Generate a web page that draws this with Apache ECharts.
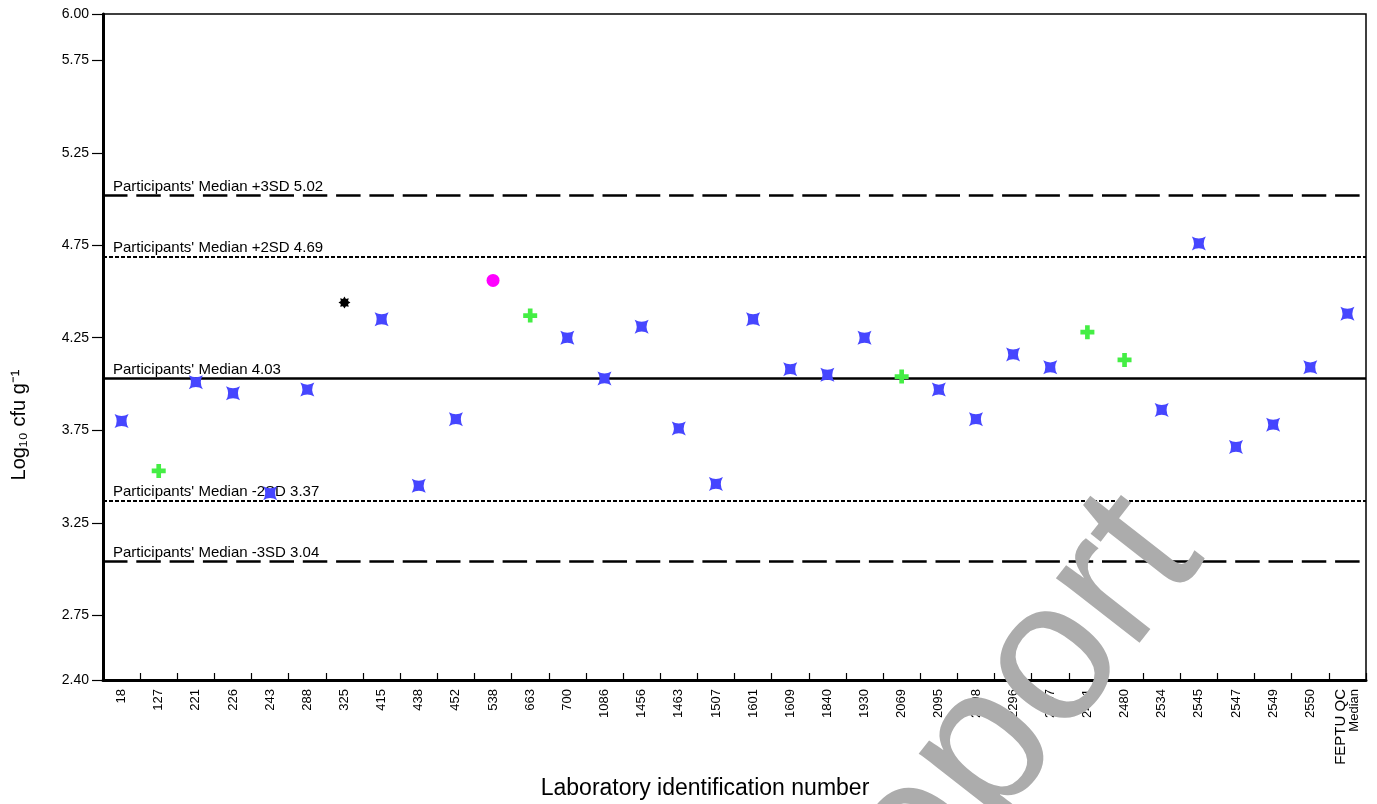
<!DOCTYPE html>
<html><head><meta charset="utf-8">
<script src="https://cdn.jsdelivr.net/npm/echarts@6/dist/echarts.min.js"></script>
<style>html,body{margin:0;padding:0;background:#fff}#c{width:1377px;height:804px}</style>
</head><body><div id="c"></div>
<script>
// ---- data ----
const categories = ['18','127','221','226','243','288','325','415','438','452','538','663','700','1086','1456','1463','1507','1601','1609','1840','1930','2069','2095','2098','2296','2467','2471','2480','2534','2545','2547','2549','2550','FEPTU QC\nMedian'];
const values = [3.80,3.53,4.01,3.95,3.41,3.97,4.44,4.35,3.45,3.81,4.56,4.37,4.25,4.03,4.31,3.76,3.46,4.35,4.08,4.05,4.25,4.04,3.97,3.81,4.16,4.09,4.28,4.13,3.86,4.76,3.66,3.78,4.09,4.38];
// marker group per laboratory: B = blue star, G = green plus, K = black burst, M = magenta circle
const groups = ['B','G','B','B','B','B','K','B','B','B','M','G','B','B','B','B','B','B','B','B','B','G','B','B','B','B','G','G','B','B','B','B','B','B'];
const yTickValues = [2.40,2.75,3.25,3.75,4.25,4.75,5.25,5.75,6.00];
const refValues = [5.02,4.69,4.03,3.37,3.04];
const refLabels = ["Participants' Median +3SD 5.02","Participants' Median +2SD 4.69","Participants' Median 4.03","Participants' Median -2SD 3.37","Participants' Median -3SD 3.04"];
const refKinds = ['dash','dot','solid','dot','dash'];
const xTitle = 'Laboratory identification number';
const yTitle = 'Log\u2081\u2080 cfu g\u207B\u00B9';
const watermark = 'Report';

// ---- styles ----
const FONT = 'Arial, "Liberation Sans", sans-serif';
const starPath = 'path://M-10,-10 Q0,-4 10,-10 Q4,0 10,10 Q0,4 -10,10 Q-4,0 -10,-10 Z';
const plusPath = 'path://M-2,-6 L2,-6 L2,-2 L6,-2 L6,2 L2,2 L2,6 L-2,6 L-2,2 L-6,2 L-6,-2 L-2,-2 Z';
let burst = 'path://';
for (let i = 0; i < 16; i++) {
  const r = i % 2 === 0 ? 10 : 6.5;
  const a = Math.PI * i / 8;
  burst += (i === 0 ? 'M' : 'L') + (r * Math.cos(a)).toFixed(2) + ',' + (r * Math.sin(a)).toFixed(2) + ' ';
}
burst += 'Z';
const groupStyle = {
  B: {symbol: starPath, size: 14, color: '#4646ff'},
  G: {symbol: plusPath, size: 14, color: '#44ee44'},
  K: {symbol: burst, size: 12, color: '#000000'},
  M: {symbol: 'circle', size: 13, color: '#ff00ff'}
};
const lineKinds = {
  dash: {type: [24.5, 8.8], width: 2.5},
  dot: {type: [4, 2], width: 2},
  solid: {type: 'solid', width: 2.5}
};

const series = Object.keys(groupStyle).map(function (g) {
  const st = groupStyle[g];
  const data = [];
  values.forEach(function (v, i) { if (groups[i] === g) data.push([categories[i], v]); });
  return {
    type: 'scatter', name: g, data: data, symbol: st.symbol, symbolSize: st.size,
    itemStyle: {color: st.color, opacity: 1}, z: 5, silent: true
  };
});
series[0].markLine = {
  silent: true, symbol: 'none', animation: false,
  data: refValues.map(function (v, i) {
    const k = lineKinds[refKinds[i]];
    return {
      yAxis: v,
      lineStyle: {color: '#000', type: k.type, width: k.width},
      label: {show: true, position: 'insideStartTop', formatter: refLabels[i], color: '#000',
        fontSize: 15, fontFamily: FONT, distance: [10, 1]}
    };
  })
};

const chart = echarts.init(document.getElementById('c'), null, {renderer: 'canvas'});
chart.setOption({
  animation: false,
  backgroundColor: '#fff',
  grid: {left: 103, right: 11, top: 14, bottom: 124, show: true, borderColor: '#000', borderWidth: 1.5},
  xAxis: {
    type: 'category', data: categories, boundaryGap: true,
    axisLine: {show: true, lineStyle: {color: '#000', width: 3}},
    axisTick: {show: true, inside: true, length: 7, lineStyle: {color: '#000', width: 1.2}},
    axisLabel: {rotate: 90, fontSize: 13, color: '#000', fontFamily: FONT, margin: 9, interval: 0, lineHeight: 14,
      formatter: function (v) {
        if (v.indexOf('\n') >= 0) { const p = v.split('\n'); return '{a|' + p[0] + '}\n{b|' + p[1] + '}'; }
        return v;
      },
      rich: {a: {fontSize: 15, fontFamily: FONT, color: '#000', lineHeight: 14}, b: {fontSize: 13, fontFamily: FONT, color: '#000', lineHeight: 14}}
    },
    splitLine: {show: false}
  },
  yAxis: {
    type: 'value', min: 2.4, max: 6,
    axisLine: {show: true, lineStyle: {color: '#000', width: 3}},
    axisTick: {show: true, length: 11, customValues: yTickValues, lineStyle: {color: '#000', width: 1.2}},
    axisLabel: {customValues: yTickValues, fontSize: 14, color: '#000', fontFamily: FONT, margin: 14,
      formatter: function (v) { return v.toFixed(2); }},
    splitLine: {show: false}
  },
  series: series,
  graphic: [
    {type: 'text', x: 705, y: 789, z: 10, style: {text: xTitle, font: '23px ' + FONT, fill: '#000', textAlign: 'center', textVerticalAlign: 'middle'}},
    {type: 'text', x: 19, y: 425, rotation: Math.PI / 2, z: 10, style: {text: yTitle, font: '20px ' + FONT, fill: '#000', textAlign: 'center', textVerticalAlign: 'middle'}},
    {type: 'text', x: 978, y: 760, rotation: 52 * Math.PI / 180, z: 100, style: {text: watermark, font: '200px ' + FONT, fill: '#acacac', textAlign: 'center', textVerticalAlign: 'middle'}}
  ]
});
</script></body></html>
